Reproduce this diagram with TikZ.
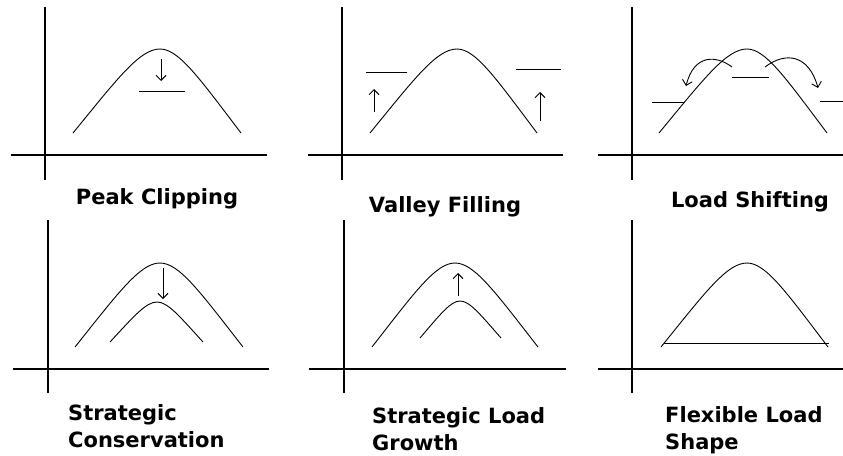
\documentclass[tikz,border=0pt]{standalone}
\usepackage{fontspec}
\setmainfont{DejaVu Sans}
\usetikzlibrary{arrows.meta}
\tikzset{
  axis/.style={
    line width=1.3pt,
    draw=black
  },
  curve/.style={
    line width=0.9pt,
    draw=black
  },
  levelline/.style={
    line width=1pt,
    draw=black
  },
  loadarrow/.style={
    -{Straight Barb[length=5pt,width=10pt]},
    line width=0.9pt,
    draw=black
  },
  caption/.style={
    font=\fontsize{21}{27}\selectfont\bfseries,
    inner sep=0pt,
    align=left
  }
}
% hump: left x, peak x, right x, base y, peak y
\newcommand{\loadcurve}[5]{%
  \draw[curve] (#1,#4)
    .. controls ({#1+0.52*(#2-#1)},{#4-0.66*(#4-#5)}) and ({#2-0.23*(#2-#1)},#5) .. (#2,#5)
    .. controls ({#2+0.23*(#3-#2)},#5) and ({#3-0.52*(#3-#2)},{#4-0.66*(#4-#5)}) .. (#3,#4);}

\begin{document}
\begin{tikzpicture}[x=1pt,y=-1pt]
\useasboundingbox (0,0) rectangle (843,455);

% axes, top row
\draw[axis] (45,7) -- (45,180);
\draw[axis] (11,155) -- (267,155);
\draw[axis] (342,7) -- (342,180);
\draw[axis] (308,155) -- (563,155);
\draw[axis] (632,7) -- (632,180);
\draw[axis] (598,155) -- (843,155);
% axes, bottom row
\draw[axis] (48,220) -- (48,393);
\draw[axis] (13,369) -- (269,369);
\draw[axis] (344,220) -- (344,393);
\draw[axis] (309,369) -- (566,369);
\draw[axis] (632,220) -- (632,393);
\draw[axis] (598,369) -- (843,369);

% peak clipping
\loadcurve{73}{160}{241}{133}{49}
\draw[loadarrow] (161,59) -- (161,81);
\draw[levelline] (139,91) -- (185,91);
\node[caption, anchor=base] (peak) at (157,204) {Peak Clipping};

% valley filling
\loadcurve{370}{457}{537}{133}{49}
\draw[levelline] (366,72) -- (407,72);
\draw[levelline] (516,69) -- (561,69);
\draw[loadarrow] (374,112) -- (374,89);
\draw[loadarrow] (540,121) -- (540,92);
\node[caption, anchor=base] (valley) at (445,212) {Valley Filling};

% load shifting
\loadcurve{659}{747}{827}{133}{49}
\draw[levelline] (732,77) -- (769,77);
\draw[levelline] (652,102) -- (685,102);
\draw[levelline] (820,101) -- (843,101);
\draw[loadarrow] (732,67) .. controls (716,55) and (694,54) .. (686,86);
\draw[loadarrow] (765,67) .. controls (786,51) and (809,55) .. (818,88);
\node[caption, anchor=base] (shift) at (750,207) {Load Shifting};

% strategic conservation
\loadcurve{75}{160}{243}{347}{263}
\loadcurve{110}{157}{203}{342}{302}
\draw[loadarrow] (163,268) -- (163,299);
\node[caption, anchor=base west] (conserve) at (68,447) {Strategic\\Conservation};

% strategic load growth
\loadcurve{372}{455}{538}{347}{263}
\loadcurve{420}{460}{501}{338}{301}
\draw[loadarrow] (458,296) -- (458,273);
\node[caption, anchor=base west] (growth) at (372,450) {Strategic Load\\Growth};

% flexible load shape
\loadcurve{661}{747}{828}{347}{263}
\draw[levelline] (664,343) -- (829,343);
\node[caption, anchor=base west] (flexible) at (665,449) {Flexible Load\\Shape};
\end{tikzpicture}
\end{document}
